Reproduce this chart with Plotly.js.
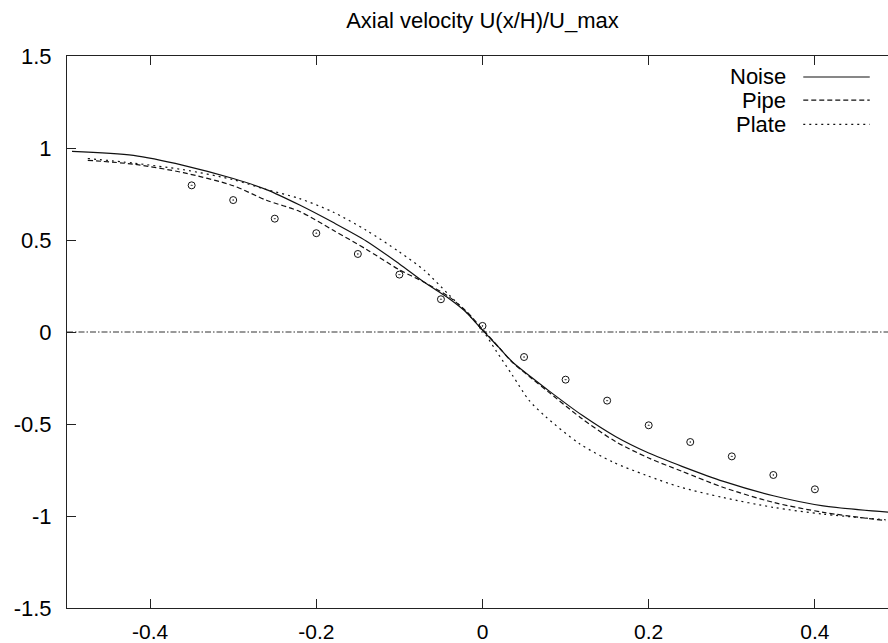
<!DOCTYPE html>
<html>
<head>
<meta charset="utf-8">
<script src="https://cdn.plot.ly/plotly-3.0.1.min.js"></script>
<style>
html, body { margin:0; padding:0; overflow:hidden; background:#fff; }
#chart { width:898px; height:643px; }
</style>
</head>
<body>
<div id="chart"></div>
<script>
// ---- data ----
var noiseX = [-0.494, -0.42, -0.36, -0.30, -0.26, -0.22, -0.18, -0.14, -0.10, -0.07, -0.04, -0.02, 0.0, 0.02, 0.036, 0.06, 0.08, 0.12, 0.16, 0.20, 0.24, 0.29, 0.35, 0.41, 0.49];
var noiseY = [0.982, 0.960, 0.906, 0.834, 0.774, 0.690, 0.596, 0.495, 0.370, 0.270, 0.181, 0.109, 0.010, -0.085, -0.163, -0.250, -0.320, -0.453, -0.568, -0.658, -0.730, -0.812, -0.890, -0.945, -0.980];

var pipeX = [-0.475, -0.42, -0.36, -0.30, -0.26, -0.22, -0.18, -0.14, -0.10, -0.07, -0.04, -0.02, 0.0, 0.02, 0.036, 0.06, 0.08, 0.12, 0.16, 0.20, 0.24, 0.29, 0.35, 0.41, 0.485];
var pipeY = [0.933, 0.912, 0.866, 0.795, 0.716, 0.655, 0.554, 0.450, 0.338, 0.270, 0.190, 0.115, 0.015, -0.085, -0.165, -0.255, -0.328, -0.472, -0.595, -0.685, -0.757, -0.845, -0.926, -0.980, -1.025];

var plateX = [-0.475, -0.42, -0.36, -0.30, -0.26, -0.22, -0.18, -0.14, -0.10, -0.07, -0.04, -0.02, 0.0, 0.016, 0.036, 0.056, 0.0765, 0.1167, 0.157, 0.197, 0.2374, 0.29, 0.35, 0.41, 0.485];
var plateY = [0.943, 0.918, 0.882, 0.828, 0.774, 0.725, 0.652, 0.553, 0.435, 0.335, 0.200, 0.110, 0.010, -0.100, -0.235, -0.371, -0.462, -0.607, -0.707, -0.779, -0.842, -0.900, -0.953, -0.990, -1.020];

var measX = [-0.35, -0.30, -0.25, -0.20, -0.15, -0.10, -0.05, 0.0, 0.05, 0.10, 0.15, 0.20, 0.25, 0.30, 0.35, 0.40];
var measY = [0.797, 0.717, 0.616, 0.537, 0.424, 0.312, 0.178, 0.033, -0.136, -0.259, -0.373, -0.507, -0.598, -0.676, -0.777, -0.855];

var zeroX = [-0.5, 0.5];
var zeroY = [0, 0];

var xTickVals = [-0.4, -0.2, 0, 0.2, 0.4];
var xTickText = ["-0.4", "-0.2", "0", "0.2", "0.4"];
var yTickVals = [-1.5, -1, -0.5, 0, 0.5, 1, 1.5];
var yTickText = ["-1.5", "-1", "-0.5", "0", "0.5", "1", "1.5"];

var seriesNames = ["Noise", "Pipe", "Plate"];
var seriesDash = ["solid", "5px,3px", "2px,4px"];
var titleText = "Axial velocity U(x/H)/U_max";

// ---- traces ----
var ink = "#111";
var traces = [
  {x: zeroX, y: zeroY, mode: "lines", line: {color: "#333", width: 1, dash: "6px,2px,1.5px,2px"}, hoverinfo: "skip"},
  {x: noiseX, y: noiseY, mode: "lines", name: seriesNames[0], line: {color: ink, width: 1.2, dash: seriesDash[0], shape: "spline", smoothing: 0.8}},
  {x: pipeX, y: pipeY, mode: "lines", name: seriesNames[1], line: {color: ink, width: 1.2, dash: seriesDash[1], shape: "spline", smoothing: 0.8}},
  {x: plateX, y: plateY, mode: "lines", name: seriesNames[2], line: {color: ink, width: 1.2, dash: seriesDash[2], shape: "spline", smoothing: 0.8}},
  {x: measX, y: measY, mode: "markers", name: "data", marker: {symbol: "circle-open-dot", size: 7, color: ink, line: {width: 1, color: ink}}}
];

// ---- legend drawn gnuplot-style (text right, sample line after) ----
var legRows = [0.962, 0.920, 0.876];
var annotations = [];
var shapes = [];
for (var i = 0; i < seriesNames.length; i++) {
  annotations.push({xref: "paper", yref: "paper", x: 0.868, y: legRows[i], xanchor: "right", yanchor: "middle",
    text: seriesNames[i], showarrow: false, font: {family: "Liberation Sans, Arial, sans-serif", size: 22, color: "#000"}});
  shapes.push({type: "line", xref: "paper", yref: "paper", x0: 0.886, x1: 0.966, y0: legRows[i], y1: legRows[i],
    line: {color: ink, width: 1.2, dash: seriesDash[i]}});
}

var axisCommon = {
  showgrid: false, zeroline: false, showline: true, linecolor: "#222", linewidth: 1,
  ticks: "inside", ticklen: 9, tickwidth: 1, tickcolor: "#222", mirror: "ticks"
};

var layout = {
  width: 898, height: 643,
  margin: {l: 67, r: 0, t: 56, b: 35, pad: 0},
  paper_bgcolor: "#fff", plot_bgcolor: "#fff",
  showlegend: false,
  title: {text: titleText, xref: "paper", x: 0.5, xanchor: "center", yref: "container", y: 1 - 20 / 643, yanchor: "middle",
    font: {family: "Liberation Sans, Arial, sans-serif", size: 22, color: "#000"}},
  xaxis: Object.assign({}, axisCommon, {range: [-0.5, 0.5], tickvals: xTickVals, ticktext: xTickText, ticklabelstandoff: 5,
    tickfont: {family: "Liberation Sans, Arial, sans-serif", size: 21, color: "#000"}}),
  yaxis: Object.assign({}, axisCommon, {range: [-1.5, 1.5], tickvals: yTickVals, ticktext: yTickText, ticklabelstandoff: 10,
    tickfont: {family: "Liberation Sans, Arial, sans-serif", size: 22, color: "#000"}}),
  annotations: annotations,
  shapes: shapes
};

Plotly.newPlot("chart", traces, layout, {staticPlot: true, displayModeBar: false});
</script>
</body>
</html>
